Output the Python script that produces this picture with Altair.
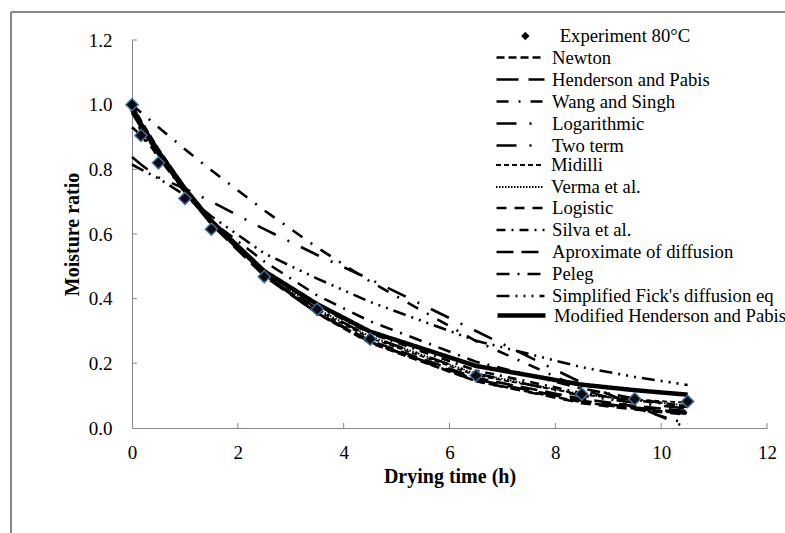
import altair as alt
import pandas as pd

# Drying time (h) at which moisture ratio was measured / predicted
time_h = [0, 0.17, 0.5, 1, 1.5, 2.5, 3.5, 4.5, 6.5, 8.5, 9.5, 10.5]

# Measured moisture ratio at 80 °C
experiment = [1.0, 0.905, 0.82, 0.71, 0.615, 0.468, 0.367, 0.275, 0.162, 0.105, 0.09, 0.082]

# Predicted moisture ratio of each thin-layer model
newton = [1.0, 0.95, 0.862, 0.743, 0.641, 0.476, 0.354, 0.263, 0.145, 0.080, 0.060, 0.044]
henderson_pabis = [0.975, 0.93, 0.845, 0.73, 0.632, 0.474, 0.355, 0.266, 0.150, 0.084, 0.063, 0.047]
wang_singh = [1.0, 0.976, 0.930, 0.862, 0.797, 0.673, 0.558, 0.453, 0.269, 0.122, 0.062, 0.012]
logarithmic = [0.838, 0.815, 0.775, 0.74, 0.70, 0.615, 0.535, 0.46, 0.30, 0.14, 0.07, 0.0]
two_term = [0.93, 0.905, 0.84, 0.735, 0.638, 0.482, 0.368, 0.283, 0.168, 0.100, 0.078, 0.060]
midilli = [0.995, 0.925, 0.843, 0.728, 0.632, 0.476, 0.363, 0.278, 0.163, 0.103, 0.088, 0.078]
verma = [1.0, 0.94, 0.852, 0.736, 0.637, 0.482, 0.368, 0.283, 0.168, 0.104, 0.085, 0.070]
logistic = [0.985, 0.94, 0.855, 0.738, 0.637, 0.477, 0.357, 0.266, 0.145, 0.077, 0.057, 0.041]
silva = [1.0, 0.915, 0.838, 0.728, 0.633, 0.487, 0.377, 0.293, 0.178, 0.108, 0.086, 0.067]
approx_diffusion = [1.0, 0.946, 0.851, 0.73, 0.63, 0.47, 0.355, 0.27, 0.155, 0.09, 0.068, 0.052]
peleg = [1.0, 0.937, 0.848, 0.735, 0.64, 0.515, 0.41, 0.33, 0.205, 0.122, 0.091, 0.065]
fick = [0.815, 0.80, 0.772, 0.72, 0.655, 0.54, 0.462, 0.39, 0.27, 0.188, 0.158, 0.133]
modified_hp = [0.985, 0.94, 0.855, 0.74, 0.64, 0.485, 0.383, 0.298, 0.192, 0.134, 0.117, 0.103]

EXP = "Experiment 80°C"

# (name, values, dash pattern); groups share a line width
group_regular_1 = [
    ("Newton", newton, [8, 4]),
    ("Henderson and Pabis", henderson_pabis, [22, 10]),
    ("Wang and Singh", wang_singh, [12, 10, 2, 10]),
    ("Logarithmic", logarithmic, [20, 13, 2, 13]),
    ("Two term", two_term, [20, 13, 2, 13]),
]
group_thin = [
    ("Midilli", midilli, [5, 3]),
    ("Verma et al.", verma, [1.5, 1.5]),
]
group_regular_2 = [
    ("Logistic", logistic, [10, 8]),
    ("Silva et al.", silva, [9, 6, 2, 6]),
    ("Aproximate of diffusion", approx_diffusion, [17, 8]),
    ("Peleg", peleg, [13, 8, 2, 8]),
    ("Simplified Fick's diffusion eq", fick, [13, 6, 2, 6, 2, 6, 2, 6]),
]
group_thick = [
    ("Modified Henderson and Pabis", modified_hp, [1, 0]),
]

FONT = "Liberation Serif"
AXIS_GRAY = "#868686"
MARKER_FILL = "#0a0a14"
MARKER_EDGE = "#41719C"
ROW = 21.5
LABEL_SIZE = 18.7
LEGEND_TOP = -4 - ROW / 2  # centre of first legend row sits 4 px above the plot

x_scale = alt.Scale(domain=[0, 12], nice=False, zero=False)
y_scale = alt.Scale(domain=[0, 1.2], nice=False)

x_axis = alt.Axis(
    title="Drying time (h)", values=[0, 2, 4, 6, 8, 10, 12], format="d",
    tickSize=0, labelPadding=15, titlePadding=4, grid=False, labelFlush=False,
)
y_axis = alt.Axis(
    title="Moisture ratio", values=[0, 0.2, 0.4, 0.6, 0.8, 1.0, 1.2], format=".1f",
    tickSize=0, labelPadding=20, titlePadding=6, grid=False, labelFlush=False,
)
X = alt.X("time:Q", scale=x_scale, axis=x_axis)
Y = alt.Y("mr:Q", scale=y_scale, axis=y_axis)


def legend_props(row):
    return dict(
        title=None, orient="none", legendY=LEGEND_TOP + ROW * row,
        labelFont=FONT, labelFontSize=LABEL_SIZE, labelColor="black", labelLimit=400,
        clipHeight=ROW, rowPadding=0, padding=0, offset=0,
    )


def model_layer(group, width, first_row):
    names = [n for n, _, _ in group]
    df = pd.DataFrame(
        [{"time": t, "mr": v, "model": n} for n, vals, _ in group for t, v in zip(time_h, vals)]
    )
    legend = alt.Legend(
        legendX=363, symbolType="stroke", symbolSize=2304, symbolStrokeColor="black",
        symbolStrokeWidth=width, labelOffset=6, **legend_props(first_row),
    )
    return alt.Chart(df).mark_line(
        color="black", strokeCap="butt", strokeWidth=width, clip=False
    ).encode(
        x=X, y=Y,
        strokeDash=alt.StrokeDash(
            "model:N",
            scale=alt.Scale(domain=names, range=[d for _, _, d in group]),
            legend=legend,
        ),
        order=alt.Order("time:Q"),
    )


exp_df = pd.DataFrame({"time": time_h, "mr": experiment, "series": EXP})
xticks_df = pd.DataFrame({"time": [2, 4, 6, 8, 10, 12]})
yticks_df = pd.DataFrame({"mr": [0.2, 0.4, 0.6, 0.8, 1.0, 1.2]})

# outer chart frame
frame = alt.Chart(exp_df).mark_rect(fill=None, stroke=AXIS_GRAY, strokeWidth=1).encode(
    x=alt.value(-121), x2=alt.value(670), y=alt.value(-28), y2=alt.value(510)
)

layers_models = [
    model_layer(group_regular_1, 2.6, 1),
    model_layer(group_thin, 1.8, 6),
    model_layer(group_regular_2, 2.6, 8),
    model_layer(group_thick, 4.5, 13),
]

# inward tick marks on both axes
x_ticks = alt.Chart(xticks_df).mark_rule(color=AXIS_GRAY, strokeWidth=1).encode(
    x=X, y=alt.value(388), y2=alt.value(383)
)
y_ticks = alt.Chart(yticks_df).mark_rule(color=AXIS_GRAY, strokeWidth=1).encode(
    y=Y, x=alt.value(0), x2=alt.value(5)
)

exp_legend = alt.Legend(
    legendX=384, symbolType="diamond", symbolSize=70,
    symbolFillColor=MARKER_FILL, symbolStrokeColor=MARKER_EDGE, symbolStrokeWidth=1.2,
    labelOffset=25, **legend_props(0),
)
points = alt.Chart(exp_df).mark_point(
    filled=True, fill=MARKER_FILL, stroke=MARKER_EDGE,
    strokeWidth=1.4, size=150, opacity=1,
).encode(
    x=X, y=Y,
    shape=alt.Shape("series:N", scale=alt.Scale(domain=[EXP], range=["diamond"]), legend=exp_legend),
)

chart = (
    alt.layer(frame, *layers_models, x_ticks, y_ticks, points)
    .resolve_scale(strokeDash="independent")
    .resolve_legend(strokeDash="independent")
    .properties(
        width=635, height=388, autosize="none",
        padding={"left": 132, "top": 40, "right": 18, "bottom": 105},
        background="white",
    )
    .configure(font=FONT)
    .configure_view(stroke=None)
    .configure_axis(
        domainColor=AXIS_GRAY, domainWidth=1,
        labelFont=FONT, labelFontSize=19, labelColor="black",
        titleFont=FONT, titleFontSize=20, titleFontWeight="bold", titleColor="black",
    )
    .configure_legend(labelFont=FONT, labelFontSize=LABEL_SIZE, labelColor="black")
)

chart.save("out.html", embed_options={"renderer": "svg", "actions": False})
